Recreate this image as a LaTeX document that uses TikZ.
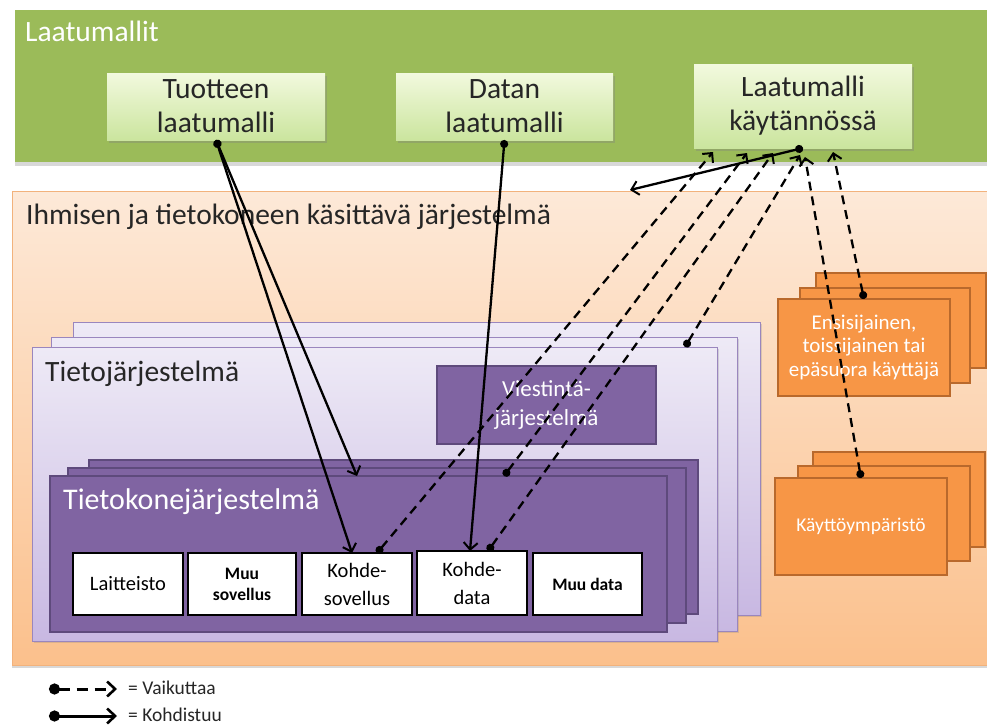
\documentclass[tikz,border=0pt]{standalone}
\usepackage{fontspec}
\setmainfont{Carlito}
\usetikzlibrary{arrows.meta,shadows}

\definecolor{bandGreen}{HTML}{9BBB59}
\definecolor{lgTop}{HTML}{F2F9DE}
\definecolor{lgBot}{HTML}{CBE59E}
\definecolor{orTop}{HTML}{FDE9D8}
\definecolor{orBot}{HTML}{FBC08C}
\definecolor{orEdge}{HTML}{F2B27C}
\definecolor{lavTop}{HTML}{EEEAF6}
\definecolor{lavBot}{HTML}{C8B8E2}
\definecolor{lavEdge}{HTML}{9A86BE}
\definecolor{purp}{HTML}{8064A2}
\definecolor{purpEdge}{HTML}{5E4A7C}
\definecolor{card}{HTML}{F79646}
\definecolor{cardEdge}{HTML}{B9692C}

\tikzset{
  fs/.style 2 args={font=\fontsize{#1}{#2}\selectfont},
  fsb/.style 2 args={font=\fontsize{#1}{#2}\selectfont\bfseries},
  box/.style={anchor=north west, inner sep=0pt, outer sep=0pt},
  qmbox/.style={box, top color=lgTop, bottom color=lgBot, draw=none,
    drop shadow={shadow xshift=2pt, shadow yshift=-3pt, opacity=0.35},
    align=center, fs={29.5}{34}, text=black!85},
  lavbox/.style={box, top color=lavTop, bottom color=lavBot, draw=lavEdge, line width=1pt,
    drop shadow={shadow xshift=2pt, shadow yshift=-2pt, opacity=0.25}},
  purpbox/.style={box, fill=purp, draw=purpEdge, line width=1.5pt},
  whitebox/.style={box, fill=white, draw=black, line width=2pt, align=center},
  cardbox/.style={box, fill=card, draw=cardEdge, line width=1.5pt, text=white, align=center},
  heading/.style={anchor=west, inner sep=0pt, fs={29.5}{34}},
  barb/.style={-{Straight Barb[length=7pt,width=14pt,line width=2pt]}},
  solidarrow/.style={line width=2.3pt, {Circle[length=8pt]}-{Straight Barb[length=7pt,width=14pt,line width=2pt]}},
  dasharrow/.style={line width=2.3pt, dash pattern=on 9pt off 6pt,
    {Circle[length=8pt]}-{Straight Barb[length=7pt,width=14pt,line width=2pt]}},
}

\begin{document}
\begin{tikzpicture}[x=1pt, y=-1pt]
\useasboundingbox (0,0) rectangle (987,726);
\clip (0,0) rectangle (987,726);
\fill[white] (0,0) rectangle (987,726);

% ---- quality models band ----
\node (qmBand) [box, fill=bandGreen, minimum width=990pt, minimum height=152pt,
  drop shadow={shadow xshift=0pt, shadow yshift=-4pt, opacity=0.3}] at (15,10) {};
\node (qmTitle) [heading, text=white] at (25,31) {Laatumallit};

\node (tuo) [qmbox, minimum width=218pt, minimum height=67pt] at (107,73) {Tuotteen\\laatumalli};
\node (dat) [qmbox, minimum width=217pt, minimum height=67pt] at (396,73) {Datan\\laatumalli};
\node (kay) [qmbox, minimum width=218pt, minimum height=84pt] at (694,64) {Laatumalli\\käytännössä};

% ---- human-computer system band ----
\node (sys) [box, top color=orTop, bottom color=orBot, draw=orEdge, line width=1pt,
  minimum width=990pt, minimum height=474pt,
  drop shadow={shadow xshift=0pt, shadow yshift=-3pt, opacity=0.3}] at (12,191) {};
\node (sysTitle) [heading, text=black!85] at (26,217) {Ihmisen ja tietokoneen käsittävä järjestelmä};
\coordinate (sysTop) at (630,190);

% information system stack
\node (isBack) [lavbox, minimum width=687pt, minimum height=293pt] at (73,322) {};
\node (isMid)  [lavbox, minimum width=686pt, minimum height=294pt] at (51,337) {};
\node (isFront)[lavbox, minimum width=685pt, minimum height=294pt] at (32,347) {};
\node (isTitle) [heading, text=black!85] at (45,374) {Tietojärjestelmä};

\node (comm) [purpbox, minimum width=219pt, minimum height=78pt, text=white, align=center, fs={23}{29}]
  at (437,366) {Viestintä-\\järjestelmä};

% computer system stack
\node (csBack) [purpbox, minimum width=609pt, minimum height=154pt] at (89,460) {};
\node (csMid)  [purpbox, minimum width=618pt, minimum height=155pt] at (68,468) {};
\node (cs)     [purpbox, minimum width=617pt, minimum height=156pt] at (50,476) {};
\node (csTitle) [heading, text=white, fs={30}{34}] at (63,502) {Tietokonejärjestelmä};

\node (hw)   [whitebox, minimum width=110pt, minimum height=62pt, fs={20.5}{28}] at (73,553) {Laitteisto};
\node (oapp) [whitebox, minimum width=108pt, minimum height=62pt, fsb={17.5}{21}] at (188,553) {Muu\\sovellus};
\node (tapp) [whitebox, minimum width=110pt, minimum height=62pt, fs={20.5}{28}] at (302,553) {Kohde-\\sovellus};
\node (tdat) [whitebox, minimum width=110pt, minimum height=64pt, fs={20.5}{28}] at (417,551) {Kohde-\\data};
\node (odat) [whitebox, minimum width=109pt, minimum height=62pt, fsb={17.5}{21}] at (533,553) {Muu data};

% users
\node (usBack) [cardbox, minimum width=170pt, minimum height=95pt] at (816,273) {};
\node (usMid)  [cardbox, minimum width=170pt, minimum height=95pt] at (800,288) {};
\node (us)     [cardbox, minimum width=172pt, minimum height=97pt, fs={21}{23.5}] at (778,299)
  {Ensisijainen,\\toissijainen tai\\epäsuora käyttäjä};

% environment
\node (envBack) [cardbox, minimum width=172pt, minimum height=95pt] at (813,452) {};
\node (envMid)  [cardbox, minimum width=172pt, minimum height=95pt] at (798,466) {};
\node (env)     [cardbox, minimum width=172pt, minimum height=97pt, fs={19.5}{23}] at (775,478) {Käyttöympäristö};

% ---- targets (solid) ----
\draw[solidarrow] (tuo.south) -- ([xshift=-1.5pt]cs.north);
\draw[solidarrow] (tuo.south) -- ([xshift=-5pt]tapp.north);
\draw[solidarrow] (dat.south) -- ([xshift=-2pt]tdat.north);
\draw[solidarrow] (kay.south) -- (sysTop);

% ---- influences (dashed) ----
\draw[dasharrow] ([xshift=20pt]tapp.north) -- ([xshift=-90pt,yshift=-4pt]kay.south);
\draw[dasharrow] ([xshift=145.5pt]cs.north) -- ([xshift=-56pt,yshift=-5pt]kay.south);
\draw[dasharrow] ([xshift=16pt]tdat.north) -- ([xshift=-30pt,yshift=-5pt]kay.south);
\draw[dasharrow] ([xshift=310.5pt]isFront.north) -- ([xshift=-3pt,yshift=-7pt]kay.south);
\draw[dasharrow] (env.north) -- ([xshift=2pt,yshift=-9pt]kay.south);
\draw[dasharrow] (us.north) -- ([xshift=30pt,yshift=-4pt]kay.south);

% ---- legend ----
\coordinate (lgA1) at (49,689);
\coordinate (lgA2) at (117,689);
\coordinate (lgB1) at (49,716);
\coordinate (lgB2) at (117,716);
\draw[line width=3pt, dash pattern=on 11pt off 7pt,
  {Circle[length=11pt]}-{Straight Barb[length=8pt,width=15pt,line width=2.6pt]}] (lgA1) -- (lgA2);
\draw[line width=3pt,
  {Circle[length=11pt]}-{Straight Barb[length=8pt,width=15pt,line width=2.6pt]}] (lgB1) -- (lgB2);
\node (lgAtext) [anchor=west, inner sep=0pt, fs={19.5}{22}, text=black!85] at (128,688) {= Vaikuttaa};
\node (lgBtext) [anchor=west, inner sep=0pt, fs={19.5}{22}, text=black!85] at (128,715) {= Kohdistuu};
\end{tikzpicture}
\end{document}
